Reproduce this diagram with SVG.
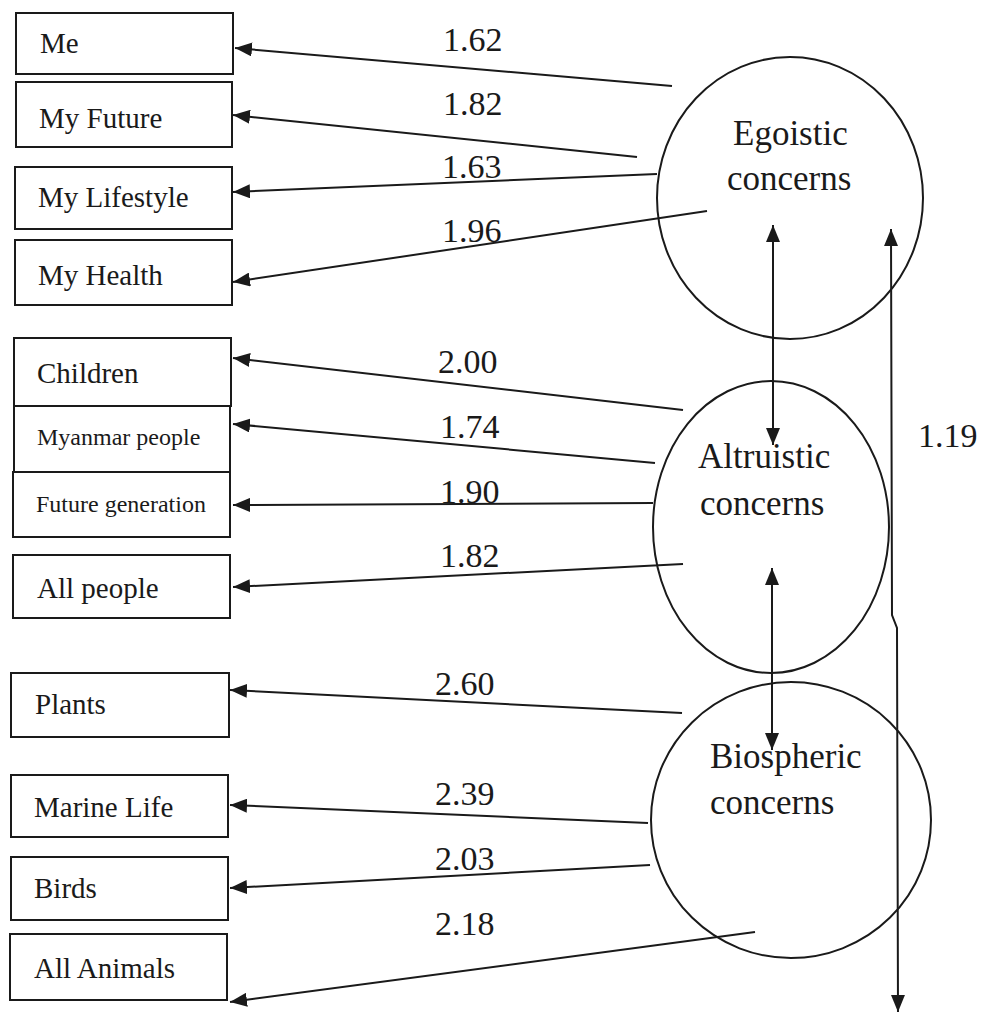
<svg xmlns="http://www.w3.org/2000/svg" width="983" height="1015" viewBox="0 0 983 1015">
<style>
.box{fill:#fff;stroke:#1a1a1a;stroke-width:2}
.ell{fill:none;stroke:#1a1a1a;stroke-width:2}
.t{font-family:"Liberation Serif","Times New Roman",serif;font-size:29px;fill:#1a1a1a}
.ts{font-family:"Liberation Serif","Times New Roman",serif;font-size:24px;fill:#1a1a1a}
.tc{font-family:"Liberation Serif","Times New Roman",serif;font-size:35px;fill:#1a1a1a}
.n{font-family:"Liberation Serif","Times New Roman",serif;font-size:34px;fill:#1a1a1a}
.c{fill:none;stroke:#1a1a1a;stroke-width:2}
</style>
<defs>
<marker id="ah" markerUnits="userSpaceOnUse" markerWidth="18" markerHeight="14" refX="17" refY="7" orient="auto-start-reverse">
<path d="M0,0 L17,7 L0,14 z" fill="#1a1a1a"/>
</marker>
</defs>
<rect width="983" height="1015" fill="#fff"/>
<g id="me"><rect class="box" x="16" y="13" width="217" height="61"/><text class="t" x="40" y="53">Me</text></g>
<g id="my-future"><rect class="box" x="16" y="82" width="216" height="65"/><text class="t" x="39" y="128">My Future</text></g>
<g id="my-lifestyle"><rect class="box" x="15" y="167" width="217" height="62"/><text class="t" x="38" y="207">My Lifestyle</text></g>
<g id="my-health"><rect class="box" x="15" y="240" width="217" height="65"/><text class="t" x="38" y="285">My Health</text></g>
<g id="children"><rect class="box" x="14" y="338" width="217" height="68"/><text class="t" x="37" y="383">Children</text></g>
<g id="myanmar-people"><rect class="box" x="14" y="406" width="216" height="66"/><text class="ts" x="37" y="445">Myanmar people</text></g>
<g id="future-generation"><rect class="box" x="13" y="472" width="217" height="65"/><text class="ts" x="36" y="512">Future generation</text></g>
<g id="all-people"><rect class="box" x="13" y="555" width="217" height="63"/><text class="t" x="37" y="598">All people</text></g>
<g id="plants"><rect class="box" x="11" y="673" width="218" height="64"/><text class="t" x="35" y="714">Plants</text></g>
<g id="marine-life"><rect class="box" x="11" y="775" width="217" height="62"/><text class="t" x="34" y="817">Marine Life</text></g>
<g id="birds"><rect class="box" x="11" y="857" width="217" height="63"/><text class="t" x="34" y="898">Birds</text></g>
<g id="all-animals"><rect class="box" x="10" y="934" width="217" height="66"/><text class="t" x="34" y="978">All Animals</text></g>
<g id="egoistic"><ellipse class="ell" cx="790" cy="198" rx="133" ry="141"/><text class="tc" x="733" y="145">Egoistic</text><text class="tc" x="727" y="190">concerns</text></g>
<g id="altruistic"><ellipse class="ell" cx="771" cy="527" rx="118" ry="146"/><text class="tc" x="698" y="468">Altruistic</text><text class="tc" x="700" y="515">concerns</text></g>
<g id="biospheric"><ellipse class="ell" cx="791" cy="820" rx="140" ry="138"/><text class="tc" x="710" y="768">Biospheric</text><text class="tc" x="710" y="814">concerns</text></g>
<g id="connectors">
<line class="c" x1="672" y1="86" x2="235" y2="48" marker-end="url(#ah)"/>
<line class="c" x1="637" y1="157" x2="233" y2="115" marker-end="url(#ah)"/>
<line class="c" x1="657" y1="174" x2="233" y2="192" marker-end="url(#ah)"/>
<line class="c" x1="707" y1="211" x2="233" y2="282" marker-end="url(#ah)"/>
<line class="c" x1="683" y1="410" x2="233" y2="358" marker-end="url(#ah)"/>
<line class="c" x1="655" y1="463" x2="233" y2="424" marker-end="url(#ah)"/>
<line class="c" x1="653" y1="503" x2="233" y2="505" marker-end="url(#ah)"/>
<line class="c" x1="683" y1="564" x2="233" y2="587" marker-end="url(#ah)"/>
<line class="c" x1="682" y1="713" x2="230" y2="690" marker-end="url(#ah)"/>
<line class="c" x1="648" y1="823" x2="230" y2="805" marker-end="url(#ah)"/>
<line class="c" x1="650" y1="865" x2="230" y2="888" marker-end="url(#ah)"/>
<line class="c" x1="755" y1="932" x2="230" y2="1002" marker-end="url(#ah)"/>
<line class="c" x1="773" y1="225" x2="773" y2="445" marker-start="url(#ah)" marker-end="url(#ah)"/>
<line class="c" x1="772" y1="568" x2="772" y2="750" marker-start="url(#ah)" marker-end="url(#ah)"/>
<path class="c" d="M891,229 L892,615 L897,628 L898,1012" marker-start="url(#ah)" marker-end="url(#ah)"/>
</g>
<g id="labels">
<text class="n" x="443" y="51">1.62</text>
<text class="n" x="443" y="115">1.82</text>
<text class="n" x="442" y="178">1.63</text>
<text class="n" x="442" y="242">1.96</text>
<text class="n" x="438" y="373">2.00</text>
<text class="n" x="440" y="438">1.74</text>
<text class="n" x="440" y="503">1.90</text>
<text class="n" x="440" y="567">1.82</text>
<text class="n" x="435" y="695">2.60</text>
<text class="n" x="435" y="805">2.39</text>
<text class="n" x="435" y="870">2.03</text>
<text class="n" x="435" y="935">2.18</text>
<text class="n" x="918" y="447">1.19</text>
</g>
</svg>
